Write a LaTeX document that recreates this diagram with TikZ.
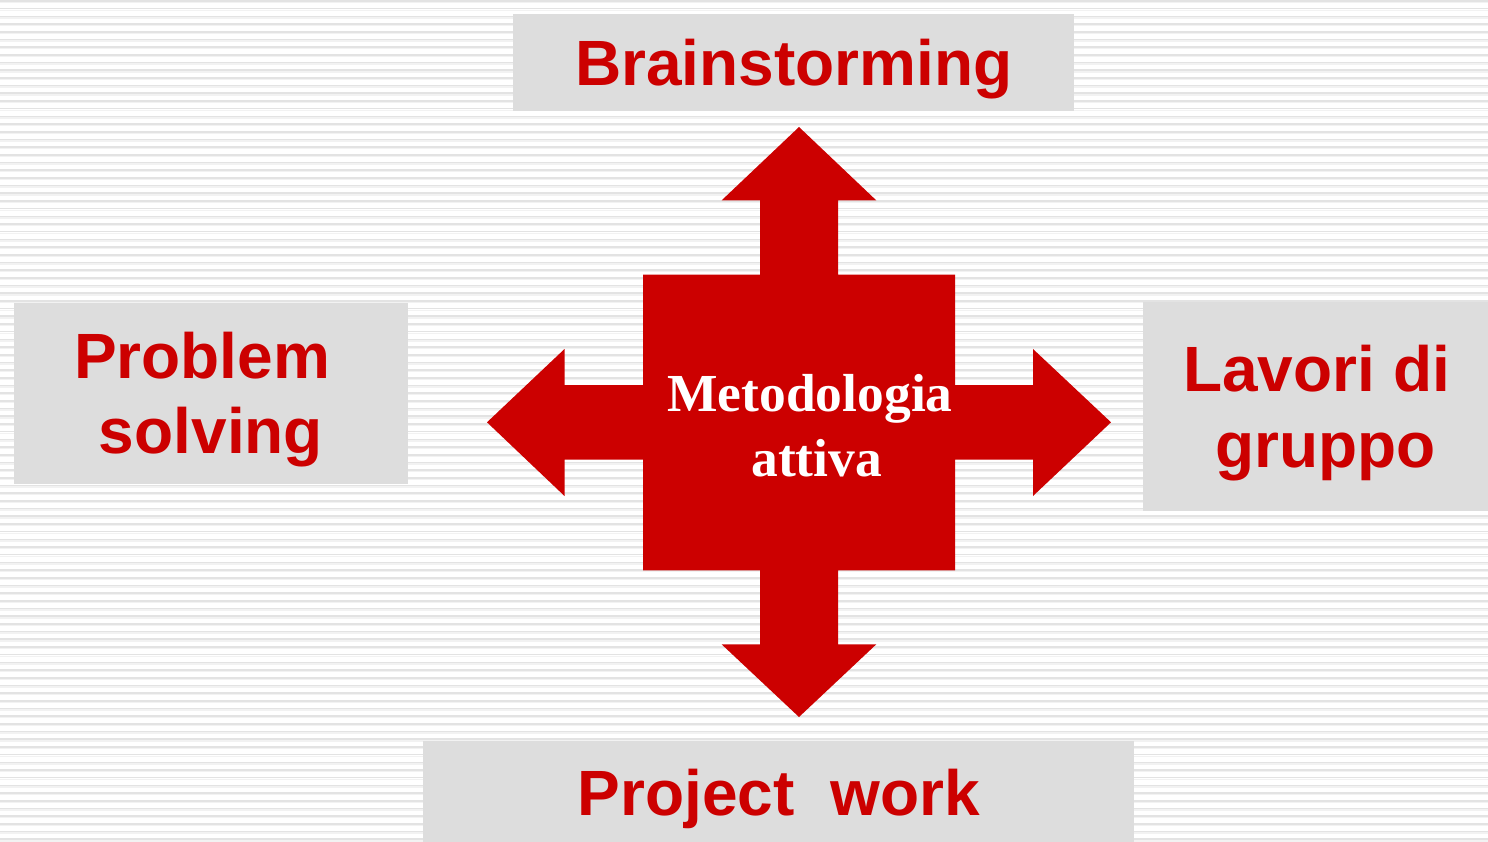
\documentclass[tikz,border=0pt]{standalone}
\usepackage{fontspec}
\setmainfont{Liberation Sans}
\newfontfamily\timesbold{Liberation Serif}[BoldFont={* Bold}]
\usetikzlibrary{positioning}

\definecolor{redfill}{HTML}{CC0000}
\definecolor{boxgray}{HTML}{DDDDDD}

\begin{document}
\begin{tikzpicture}[x=1pt,y=-1pt]

\tikzset{box/.style = {shape=rectangle,fill=boxgray,inner sep=0pt,align=center,text depth=0pt,
  text=redfill,font=\fontsize{64}{75.5}\selectfont\bfseries}}
\tikzset{hub/.style = {align=center,text=white,text depth=0pt,
  font=\timesbold\fontsize{53.5}{65}\selectfont\bfseries}}
\useasboundingbox (0,0) rectangle (1488,842);
%background
\fill[white] (0,0) rectangle (1488,842);
\foreach \i in {0,...,109} {
  \draw[black!11, line width=1.6pt] (0,1+7.69*\i) -- (1488,1+7.69*\i);
  \draw[black!5, line width=1.4pt] (0,2.6+7.69*\i) -- (1488,2.6+7.69*\i);
}
%boxes
\node[box, minimum width=561pt, minimum height=96.7pt] (brain) at (793.7,62.5) {Brainstorming};
\node[box, minimum width=394pt, minimum height=181pt] (prob) at (211,393) {Problem\ \mbox{}\\solving};
\node[box, minimum width=346.7pt, minimum height=209.3pt] (lav) at (1316.6,406.5) {Lavori di\\\ gruppo};
\node[box, minimum width=711.4pt, minimum height=104pt] (proj) at (778.7,792.5) {Project\ \ work};
%cross
\fill[redfill] (799,127) -- (876.3,200.4) -- (838,200.4) -- (838,274.6) -- (955,274.6)
  -- (955,385.2) -- (1033,385.2) -- (1033,349) -- (1111,422.3) -- (1033,496)
  -- (1033,459.5) -- (955,459.5) -- (955,570.4) -- (838,570.4) -- (838,644.3)
  -- (876.3,644.3) -- (799,717) -- (721.6,644.3) -- (760,644.3) -- (760,570.4)
  -- (643,570.4) -- (643,459.5) -- (564.5,459.5) -- (564.5,496) -- (487,422.3)
  -- (564.5,349) -- (564.5,385.2) -- (643,385.2) -- (643,274.6) -- (760,274.6)
  -- (760,200.4) -- (721.6,200.4) -- cycle;
\node[hub] (met) at (810,425) {Metodologia\\\ attiva};

\end{tikzpicture}
\end{document}
